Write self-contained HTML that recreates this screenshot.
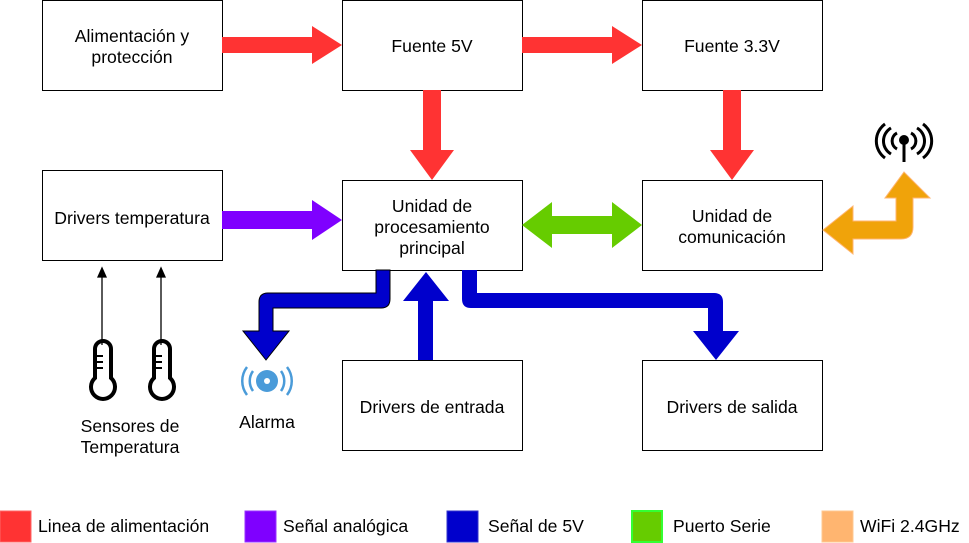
<!DOCTYPE html>
<html><head><meta charset="utf-8"><style>
html,body{margin:0;padding:0;background:#fff;}
svg{display:block;font-family:"Liberation Sans",Arial,sans-serif;}
</style></head><body>
<svg width="969" height="543" viewBox="0 0 969 543" xmlns="http://www.w3.org/2000/svg">
<g fill="#fff" stroke="#000" stroke-width="1">
<rect x="42.5" y="0.5" width="180" height="90"/>
<rect x="342.5" y="0.5" width="180" height="90"/>
<rect x="642.5" y="0.5" width="180" height="90"/>
<rect x="42.5" y="170.5" width="180" height="90"/>
<rect x="342.5" y="180.5" width="180" height="90"/>
<rect x="642.5" y="180.5" width="180" height="90"/>
<rect x="342.5" y="360.5" width="180" height="90"/>
<rect x="642.5" y="360.5" width="180" height="90"/>
</g>
<g font-size="17.6" text-anchor="middle" fill="#000">
<text x="132" y="42">Alimentación y</text>
<text x="132" y="63">protección</text>
<text x="432" y="52">Fuente 5V</text>
<text x="732" y="52">Fuente 3.3V</text>
<text x="132" y="224">Drivers temperatura</text>
<text x="432" y="212">Unidad de</text>
<text x="432" y="233">procesamiento</text>
<text x="432" y="254">principal</text>
<text x="732" y="222">Unidad de</text>
<text x="732" y="243">comunicación</text>
<text x="432" y="413">Drivers de entrada</text>
<text x="732" y="413">Drivers de salida</text>
<text x="267" y="428">Alarma</text>
<text x="130" y="432">Sensores de</text>
<text x="130" y="453">Temperatura</text>
</g>
<g fill="#FF3333">
<polygon points="222,37 312,37 312,26 342,45 312,64 312,53 222,53"/>
<polygon points="522,37 612,37 612,26 642,45 612,64 612,53 522,53"/>
<polygon points="423,90 441,90 441,150 454,150 432,180 410,150 423,150"/>
<polygon points="723,90 741,90 741,150 754,150 732,180 710,150 723,150"/>
</g>
<polygon fill="#7F00FF" points="222,211 312,211 312,200 342,220 312,240 312,229 222,229"/>
<polygon fill="#66CC00" points="522,225 552,202 552,216 612,216 612,202 642,225 612,248 612,234 552,234 552,248"/>
<path fill="#F0A30A" stroke="#FFB570" stroke-width="1" d="M823,230 L853,206 L853,221 L896,221 L896,198 L885,198 L904,172 L930,198 L913,198 L913,227 Q913,239 901,239 L853,239 L853,254 Z"/>
<path fill="#0000CC" stroke="#000" stroke-width="1" d="M376,270 L390,270 L390,299 Q390,308 381,308 L273,308 L273,331 L289,331 L266,360 L243,331 L259,331 L259,302 Q259,293 268,293 L376,293 Z"/>
<polygon fill="#0000CC" points="418,360 433,360 433,301 449,301 426,272 403,301 418,301"/>
<path fill="#0000CC" d="M462,270 L477,270 L477,293 L714,293 Q723,293 723,302 L723,331 L739,331 L716,360 L693,331 L708,331 L708,308 L471,308 Q462,308 462,299 Z"/>
<g stroke="#000" stroke-width="1.3" fill="#000">
<line x1="102" y1="345" x2="102" y2="275"/>
<polygon points="102,268 98,277 106,277"/>
<line x1="161" y1="345" x2="161" y2="275"/>
<polygon points="161,268 157,277 165,277"/>
</g>
<g fill="none" stroke="#000" stroke-width="4">
<path d="M95,349 L95,378 A12,12 0 1 0 111,378 L111,349 A8,8 0 0 0 95,349 Z"/>
<path d="M154,349 L154,378 A12,12 0 1 0 170,378 L170,349 A8,8 0 0 0 154,349 Z"/>
</g>
<g stroke="#000" stroke-width="2">
<line x1="97" y1="356" x2="103" y2="356"/><line x1="97" y1="362" x2="103" y2="362"/><line x1="97" y1="368" x2="103" y2="368"/>
<line x1="156" y1="356" x2="162" y2="356"/><line x1="156" y1="362" x2="162" y2="362"/><line x1="156" y1="368" x2="162" y2="368"/>
</g>
<g fill="none" stroke="#4A9BD9" stroke-width="2.5">
<circle cx="267" cy="381" r="11" fill="#4A9BD9" stroke="none"/>
<path d="M253,371 A17,17 0 0 0 253,391"/><path d="M247,367 A23,23 0 0 0 247,395"/>
<path d="M281,371 A17,17 0 0 1 281,391"/><path d="M287,367 A23,23 0 0 1 287,395"/>
</g>
<circle cx="267" cy="381" r="3" fill="#fff"/>
<g fill="none" stroke="#000" stroke-width="3">
<path d="M897,133 A9,9 0 0 0 897,149"/><path d="M891,128 A15,15 0 0 0 891,154"/><path d="M885,124 A21,21 0 0 0 885,158"/>
<path d="M911,133 A9,9 0 0 1 911,149"/><path d="M917,128 A15,15 0 0 1 917,154"/><path d="M923,124 A21,21 0 0 1 923,158"/>
<line x1="904" y1="141" x2="904" y2="162"/>
</g>
<circle cx="904" cy="140" r="5" fill="#000"/>
<rect x="0" y="511" width="31" height="31" fill="#FF3333" stroke="#ff6666"/>
<rect x="245" y="511" width="31" height="31" fill="#7F00FF" stroke="#9933ff"/>
<rect x="447" y="511" width="31" height="31" fill="#0000CC" stroke="#3333cc"/>
<rect x="632" y="511" width="30" height="31" fill="#66CC00" stroke="#33ff33" stroke-width="2"/>
<rect x="822" y="511" width="31" height="31" fill="#FFB570" stroke="#ffc890"/>
<g font-size="17.6" fill="#000">
<text x="38" y="532">Linea de alimentación</text>
<text x="283" y="532">Señal analógica</text>
<text x="488" y="532">Señal de 5V</text>
<text x="673" y="532">Puerto Serie</text>
<text x="860" y="532">WiFi 2.4GHz</text>
</g>
</svg>
</body></html>
